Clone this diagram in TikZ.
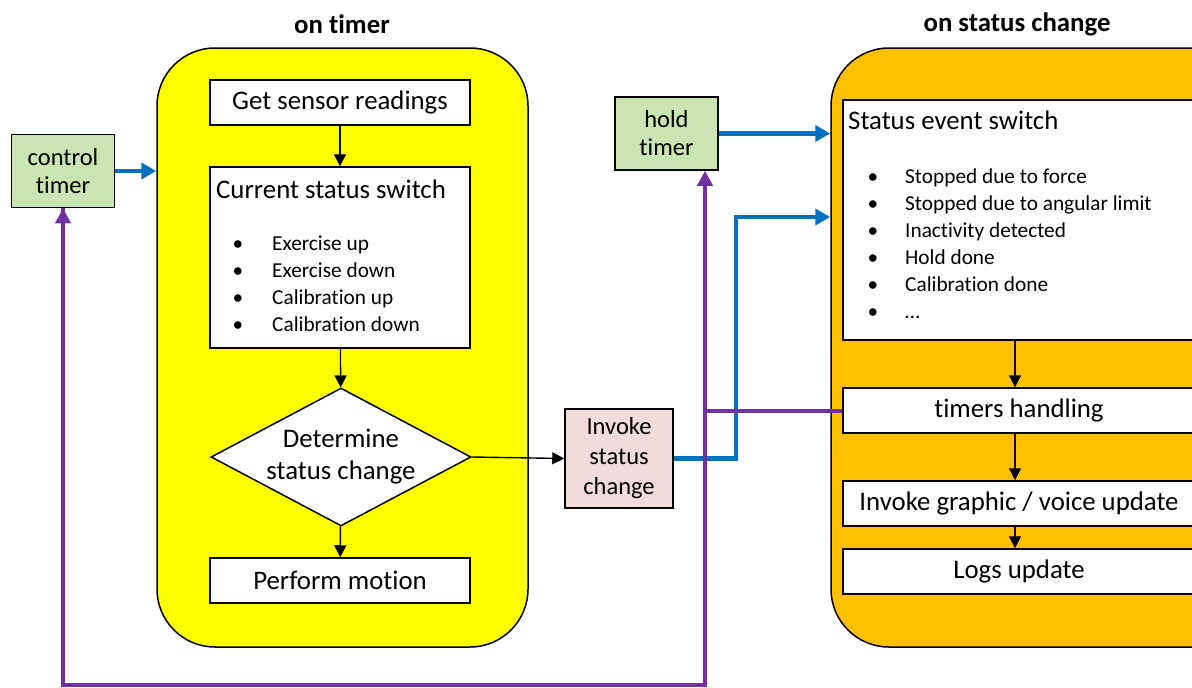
\documentclass[tikz,border=0pt]{standalone}
\usepackage{fontspec}
\setmainfont[Ligatures=NoCommon]{Carlito}
\usetikzlibrary{shapes.geometric,arrows.meta}
\definecolor{tmryellow}{HTML}{FFFF00}
\definecolor{evtorange}{HTML}{FFC000}
\definecolor{tmrgreen}{HTML}{C9E5B1}
\definecolor{invpink}{HTML}{F2DCDB}
\definecolor{sigblue}{HTML}{0070C0}
\definecolor{sigpurple}{HTML}{7030A0}
\tikzset{
  phase/.style={draw, line width=1.5pt, rounded corners=58, inner sep=0},
  stepbox/.style={draw, fill=white, line width=1.5pt, minimum width=260, minimum height=45,
    inner sep=0, font=\fontsize{26.8}{30}\selectfont},
  head/.style={inner sep=0, font=\fontsize{26.8}{30}\selectfont},
  item/.style={inner sep=0, font=\fontsize{21.3}{24}\selectfont},
  timerbox/.style={draw, fill=tmrgreen, line width=1.5pt, minimum width=103, minimum height=73,
    inner sep=0, align=center, font=\fontsize{24.5}{28}\selectfont},
  blk/.style={line width=1.4pt, -{Triangle[length=12pt,width=12pt]}},
  bluesig/.style={sigblue, line width=4.5pt, -{Triangle[length=15pt,width=16pt]}},
  purplesig/.style={sigpurple, line width=4pt}
}
\begin{document}
\begin{tikzpicture}[x=1pt, y=-1pt]
  \useasboundingbox (0,0) rectangle (1192,688);
  \clip (0,0) rectangle (1192,688);
  \node[font=\bfseries\fontsize{26.8}{30}\selectfont] (ttltimer) at (342,24) {on timer};
  \node[font=\bfseries\fontsize{26.8}{30}\selectfont] (ttlstatus) at (1017,24) {on status change};
  \node[phase, fill=tmryellow, minimum width=371, minimum height=599] (ontimer) at (342.5,347.5) {};
  \node[phase, fill=evtorange, minimum width=420, minimum height=599] (onstatus) at (1041,347.5) {};

  \node[stepbox] (sensor) at (340,102.5) {Get sensor readings};
  \node[stepbox, minimum height=181] (cursw) at (340,257.5) {};
  \node[head, anchor=base west] (curtl) at (216,198) {Current status switch};
  \foreach \i/\t in {0/Exercise up, 1/Exercise down, 2/Calibration up, 3/Calibration down} {
    \node[item, anchor=base] (cb\i) at (238,250.5+27*\i) {\textbullet};
    \node[item, anchor=base west] (ci\i) at (272,250.5+27*\i) {\t};
  }
  \node[draw, fill=white, diamond, aspect=1.9, line width=1.5pt, inner sep=0,
    minimum width=260, minimum height=138, align=center,
    font=\fontsize{26.8}{32}\selectfont] (decide) at (341,457) {Determine\\status change};
  \node[stepbox] (motion) at (340,580.5) {Perform motion};

  \node[timerbox] (ctrl) at (63,171) {control\\timer};
  \node[timerbox] (hold) at (666.5,133.5) {hold\\timer};
  \node[draw, fill=invpink, line width=1.5pt, minimum width=108, minimum height=99, inner sep=0,
    align=center, font=\fontsize{24.5}{30}\selectfont] (invoke) at (619,458.5) {Invoke\\status\\change};

  \node[stepbox, minimum width=352, minimum height=240] (evsw) at (1019,220) {};
  \node[head, anchor=base west] (evtl) at (848,129.5) {Status event switch};
  \foreach \i/\t in {0/Stopped due to force, 1/Stopped due to angular limit, 2/Inactivity detected,
    3/Hold done, 4/Calibration done, 5/…} {
    \node[item, anchor=base] (eb\i) at (873,183.5+27*\i) {\textbullet};
    \node[item, anchor=base west] (ei\i) at (905,183.5+27*\i) {\t};
  }
  \node[stepbox, minimum width=352] (timers) at (1019,410.5) {timers handling};
  \node[stepbox, minimum width=352] (graphic) at (1019,503.5) {Invoke graphic / voice update};
  \node[stepbox, minimum width=352] (logs) at (1019,571.5) {Logs update};

  \draw[blk] (sensor) -- (cursw);
  \draw[blk] (cursw) -- (decide);
  \draw[blk] (decide) -- (motion);
  \draw[blk] (decide.east) -- (invoke.west);
  \draw[blk] ([xshift=-4pt]evsw.south) -- ([xshift=-4pt]timers.north);
  \draw[blk] ([xshift=-4pt]timers.south) -- ([xshift=-4pt]graphic.north);
  \draw[blk] ([xshift=-4pt]graphic.south) -- ([xshift=-4pt]logs.north);

  \coordinate (bend) at (736,217);
  \draw[bluesig] (ctrl.east) -- (ctrl.east -| ontimer.west);
  \draw[bluesig] (hold.east) -- (hold.east -| onstatus.west);
  \draw[bluesig] (invoke.east) -| (bend) -- (bend -| onstatus.west);

  \coordinate (pjoin) at (705,410.5);
  \coordinate (pbase) at (705,685);
  \draw[purplesig] (timers.west) -- (pjoin) -- (pbase) -| (ctrl.south);
  \draw[purplesig, -{Triangle[length=15pt,width=15pt]}] (pbase -| ctrl.south) -- (ctrl.south);
  \draw[purplesig, -{Triangle[length=15pt,width=15pt]}] (pjoin) -- (pjoin |- hold.south);
\end{tikzpicture}
\end{document}
